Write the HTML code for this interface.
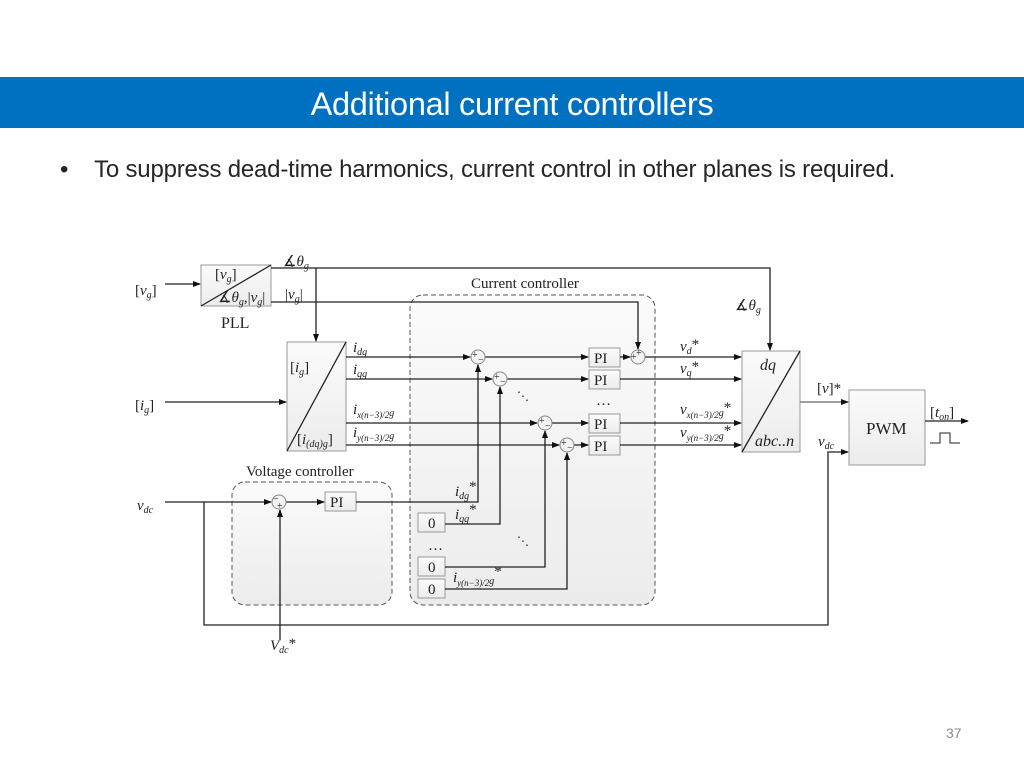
<!DOCTYPE html>
<html><head><meta charset="utf-8"><style>
body{margin:0;width:1024px;height:768px;background:#fff;position:relative;overflow:hidden;font-family:"Liberation Sans",sans-serif}
.bar{position:absolute;left:0;top:77px;width:1024px;height:51px;background:#0070c0;color:#fff;font-size:32.5px;text-align:center;line-height:54px;letter-spacing:-0.3px}
.bul{position:absolute;left:60px;top:156px;font-size:24px;color:#262626;white-space:nowrap;letter-spacing:-0.2px}
.pn{position:absolute;left:946px;top:725px;font-size:14px;color:#8c8c8c}
svg{position:absolute;left:0;top:0}
svg text{font-family:"Liberation Serif",serif;font-size:15px;fill:#222}
.i{font-style:italic}
</style></head><body>
<div class="bar">Additional current controllers</div>
<div class="bul">•&nbsp;&nbsp;&nbsp;&nbsp;To suppress dead-time harmonics, current control in other planes is required.</div>
<div class="pn">37</div>
<svg width="1024" height="768" viewBox="0 0 1024 768">
<defs>
<marker id="a" markerWidth="8" markerHeight="8" refX="7" refY="4" orient="auto" markerUnits="userSpaceOnUse"><path d="M0,1 L8,4 L0,7z" fill="#111"/></marker>
<linearGradient id="g" x1="0" y1="0" x2="0" y2="1"><stop offset="0" stop-color="#fbfbfb"/><stop offset="1" stop-color="#ececec"/></linearGradient>
</defs>
<g fill="url(#g)" stroke="#555" stroke-dasharray="5,3" stroke-width="1">
<rect x="410" y="295" width="245" height="310" rx="13"/>
<rect x="232" y="482" width="160" height="123" rx="13"/>
</g>
<text x="471" y="288">Current controller</text>
<text x="246" y="476">Voltage controller</text>
<g stroke="#999" fill="url(#g)">
<rect x="201" y="265" width="70" height="41"/>
<rect x="287" y="342" width="59" height="109"/>
<rect x="742" y="351" width="58" height="101"/>
<rect x="849" y="390" width="76" height="75"/>
<rect x="589" y="348" width="31" height="19"/><rect x="589" y="370" width="31" height="19"/>
<rect x="589" y="414" width="31" height="19"/><rect x="589" y="436" width="31" height="19"/>
<rect x="325" y="492" width="31" height="19"/>
<rect x="418" y="513" width="27" height="19"/><rect x="418" y="557" width="27" height="19"/><rect x="418" y="579" width="27" height="19"/>
</g>
<g stroke="#222" stroke-width="1.3" fill="none">
<path d="M201,306 L271,265 M287,451 L346,342 M742,452 L800,351"/>
<path d="M165,284 H200" marker-end="url(#a)"/>
<path d="M271,268 H770 V350" marker-end="url(#a)"/>
<path d="M271,302 H638 V349" marker-end="url(#a)"/>
<path d="M316,268 V341" marker-end="url(#a)"/>
<path d="M165,402 H286" marker-end="url(#a)"/>
<path d="M346,357 H470" marker-end="url(#a)"/><path d="M485,357 H588" marker-end="url(#a)"/>
<path d="M346,379 H492" marker-end="url(#a)"/><path d="M507,379 H588" marker-end="url(#a)"/>
<path d="M346,423 H537" marker-end="url(#a)"/><path d="M552,423 H588" marker-end="url(#a)"/>
<path d="M346,445 H559" marker-end="url(#a)"/><path d="M574,445 H588" marker-end="url(#a)"/>
<path d="M620,357 H630" marker-end="url(#a)"/>
<path d="M645,357 H741" marker-end="url(#a)"/>
<path d="M620,379 H741" marker-end="url(#a)"/>
<path d="M620,423 H741" marker-end="url(#a)"/>
<path d="M620,445 H741" marker-end="url(#a)"/>
<path d="M800,402 H848" stroke="#666" marker-end="url(#a)"/>
<path d="M925,421 H968" marker-end="url(#a)"/>
<path d="M930,443 H940 V433 H950 V443 H960" stroke-width="1"/>
<path d="M165,502 H271" marker-end="url(#a)"/>
<path d="M286,502 H324" marker-end="url(#a)"/>
<path d="M356,502 H478 V365" marker-end="url(#a)"/>
<path d="M445,524 H500 V387" marker-end="url(#a)"/>
<path d="M445,567 H545 V431" marker-end="url(#a)"/>
<path d="M445,589 H567 V453" marker-end="url(#a)"/>
<path d="M280,640 V510" marker-end="url(#a)"/>
<path d="M204,502 V625 H828 V452 H848" marker-end="url(#a)"/>
</g>
<g stroke="#888" fill="#f4f4f4">
<circle cx="478" cy="357" r="7"/><circle cx="500" cy="379" r="7"/>
<circle cx="545" cy="423" r="7"/><circle cx="567" cy="445" r="7"/>
<circle cx="638" cy="357" r="7"/><circle cx="279" cy="502" r="7"/>
</g>
<g>
<text x="472" y="358" style="font-size:10px">+</text><text x="478" y="363" style="font-size:10px">−</text>
<text x="494" y="380" style="font-size:10px">+</text><text x="500" y="385" style="font-size:10px">−</text>
<text x="539" y="424" style="font-size:10px">+</text><text x="545" y="429" style="font-size:10px">−</text>
<text x="561" y="446" style="font-size:10px">+</text><text x="567" y="451" style="font-size:10px">−</text>
<text x="631" y="360" style="font-size:10px">+</text><text x="636" y="356" style="font-size:10px">+</text>
<text x="273" y="502" style="font-size:10px">−</text><text x="277" y="509" style="font-size:10px">+</text>
</g>
<text x="594" y="363">PI</text><text x="594" y="385">PI</text><text x="594" y="429">PI</text><text x="594" y="451">PI</text>
<text x="330" y="507">PI</text>
<text x="428" y="528">0</text><text x="428" y="572">0</text><text x="428" y="594">0</text>
<text x="866" y="434" style="font-size:17px">PWM</text>
<text x="221" y="328" style="font-size:16px">PLL</text>
<text x="135" y="295">[<tspan class="i">v</tspan><tspan class="i" font-size="10" dy="3">g</tspan><tspan dy="-3">]</tspan></text>
<text x="135" y="410">[<tspan class="i">i</tspan><tspan class="i" font-size="10" dy="3">g</tspan><tspan dy="-3">]</tspan></text>
<text x="215" y="279">[<tspan class="i">v</tspan><tspan class="i" font-size="10" dy="3">g</tspan><tspan dy="-3">]</tspan></text>
<text x="218" y="302">∡<tspan class="i">θ</tspan><tspan class="i" font-size="10" dy="3">g</tspan><tspan dy="-3">,|</tspan><tspan class="i">v</tspan><tspan class="i" font-size="10" dy="3">g</tspan><tspan dy="-3">|</tspan></text>
<text x="283" y="266">∡<tspan class="i">θ</tspan><tspan class="i" font-size="10" dy="3">g</tspan></text>
<text x="285" y="299">|<tspan class="i">v</tspan><tspan class="i" font-size="10" dy="3">g</tspan><tspan dy="-3">|</tspan></text>
<text x="735" y="310">∡<tspan class="i">θ</tspan><tspan class="i" font-size="10" dy="3">g</tspan></text>
<text x="290" y="372">[<tspan class="i">i</tspan><tspan class="i" font-size="10" dy="3">g</tspan><tspan dy="-3">]</tspan></text>
<text x="297" y="444">[<tspan class="i">i</tspan><tspan class="i" font-size="10" dy="3">(dq)g</tspan><tspan dy="-3">]</tspan></text>
<g class="i">
<text x="353" y="352">i<tspan font-size="10" dy="3">dg</tspan></text>
<text x="353" y="374">i<tspan font-size="10" dy="3">qg</tspan></text>
<text x="353" y="414">i<tspan font-size="9" dy="4">x(n−3)/2</tspan><tspan font-size="10" dy="-2">g</tspan></text>
<text x="353" y="437">i<tspan font-size="9" dy="4">y(n−3)/2</tspan><tspan font-size="10" dy="-2">g</tspan></text>
<text x="680" y="351">v<tspan font-size="10" dy="3">d</tspan><tspan dy="-5" font-style="normal">*</tspan></text>
<text x="680" y="373">v<tspan font-size="10" dy="3">q</tspan><tspan dy="-5" font-style="normal">*</tspan></text>
<text x="680" y="414">v<tspan font-size="9" dy="4">x(n−3)/2</tspan><tspan font-size="10" dy="-2">g</tspan><tspan dy="-4" font-style="normal">*</tspan></text>
<text x="680" y="437">v<tspan font-size="9" dy="4">y(n−3)/2</tspan><tspan font-size="10" dy="-2">g</tspan><tspan dy="-4" font-style="normal">*</tspan></text>
<text x="455" y="496">i<tspan font-size="10" dy="3">dg</tspan><tspan dy="-8" font-style="normal">*</tspan></text>
<text x="455" y="519">i<tspan font-size="10" dy="3">qg</tspan><tspan dy="-8" font-style="normal">*</tspan></text>
<text x="453" y="582">i<tspan font-size="9" dy="4">y(n−3)/2</tspan><tspan font-size="10" dy="-2">g</tspan><tspan dy="-8" font-style="normal">*</tspan></text>
<text x="760" y="370" style="font-size:16px">dq</text>
<text x="755" y="446" style="font-size:16px">abc..n</text>
<text x="137" y="510">v<tspan font-size="10" dy="3">dc</tspan></text>
<text x="818" y="446">v<tspan font-size="10" dy="3">dc</tspan></text>
<text x="270" y="650">V<tspan font-size="10" dy="3">dc</tspan><tspan dy="-5" font-style="normal">*</tspan></text>
</g>
<text x="817" y="393">[<tspan class="i">v</tspan>]*</text>
<text x="930" y="417">[<tspan class="i">t</tspan><tspan class="i" font-size="10" dy="3">on</tspan><tspan dy="-3">]</tspan></text>
<text x="596" y="405">…</text><text x="428" y="550">…</text>
<text x="517" y="400" style="font-size:12px">⋱</text><text x="517" y="545" style="font-size:12px">⋱</text>
</svg>
</body></html>
